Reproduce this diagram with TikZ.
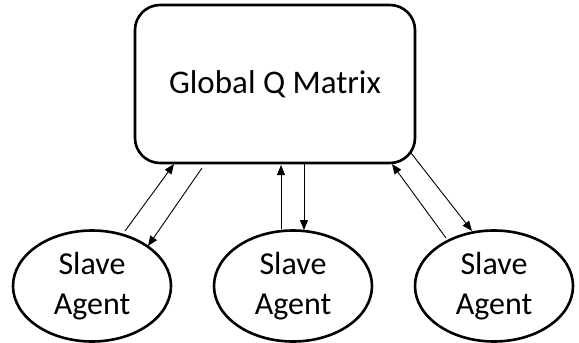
\documentclass[tikz,border=0pt]{standalone}
\usepackage{fontspec}
\setmainfont{Carlito}
\usetikzlibrary{shapes.geometric,arrows.meta}
\tikzset{
  qbox/.style={draw, line width=2.6pt, rounded corners=25pt, minimum width=280pt,
    minimum height=158pt, inner sep=0pt, font=\fontsize{33}{40}\selectfont},
  agent/.style={draw, ellipse, line width=2.6pt, minimum width=158pt, minimum height=111pt,
    inner sep=0pt, align=center, font=\fontsize{32}{40}\selectfont},
  link/.style={line width=0.9pt, -{Triangle[length=10pt,width=8pt]}}
}
\begin{document}
\begin{tikzpicture}[x=1pt,y=-1pt]
  \useasboundingbox (0,0) rectangle (579,343);
  \node[qbox] (gq) at (275,84) {Global Q Matrix};
  \node[agent] (a1) at (92,286) {Slave\\Agent};
  \node[agent] (a2) at (293,286) {Slave\\Agent};
  \node[agent] (a3) at (494,286) {Slave\\Agent};
  % endpoints of the exchange arrows
  \coordinate (l1s) at (125,231);
  \coordinate (l1e) at (174,164);
  \coordinate (l2s) at (202,168);
  \coordinate (l2e) at (148,246);
  \coordinate (m1s) at (281,229);
  \coordinate (m1e) at (281,165);
  \coordinate (m2s) at (304,163);
  \coordinate (m2e) at (304,230);
  \coordinate (r1s) at (446,238);
  \coordinate (r1e) at (392,164);
  \coordinate (r2s) at (411,153);
  \coordinate (r2e) at (472,231);
  \draw[link] (l1s) -- (l1e);
  \draw[link] (l2s) -- (l2e);
  \draw[link] (m1s) -- (m1e);
  \draw[link] (m2s) -- (m2e);
  \draw[link] (r1s) -- (r1e);
  \draw[link] (r2s) -- (r2e);
\end{tikzpicture}
\end{document}
